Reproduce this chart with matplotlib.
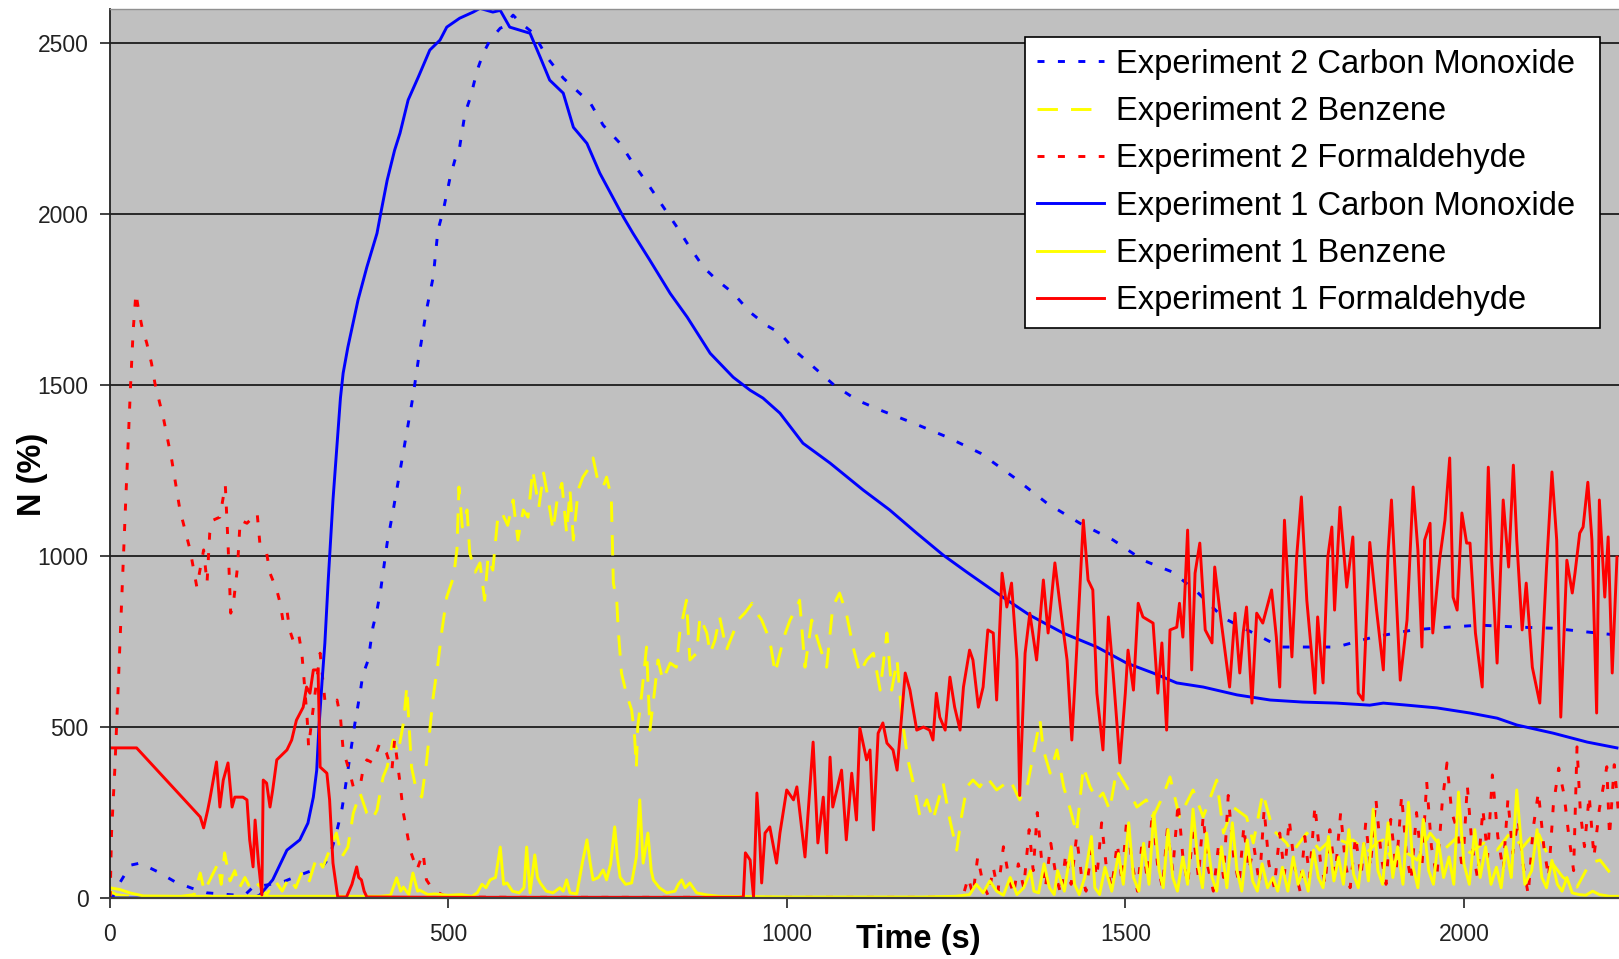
import matplotlib
matplotlib.use("Agg")
import matplotlib.pyplot as plt

plt.rcParams['font.family'] = ['Liberation Sans', 'DejaVu Sans']

# (time s, N %) pairs
co_exp2 = [(0, 0), (5, 3), (16, 47), (31, 96), (45, 102), (72, 76), (97, 47), (121, 29), (144, 15),
           (183, 9), (200, 9), (212, 32), (232, 38), (256, 47), (281, 67), (301, 82), (316, 96),
           (325, 120), (335, 190), (343, 257), (347, 307), (358, 453), (362, 506), (370, 599),
           (374, 652), (382, 696), (389, 792), (395, 842), (400, 895), (410, 1038), (419, 1135),
           (448, 1465), (456, 1573), (468, 1719), (478, 1816), (485, 1953), (493, 2012), (503, 2108),
           (510, 2158), (517, 2196), (525, 2295), (533, 2342), (543, 2421), (552, 2471), (562, 2509),
           (577, 2544), (581, 2547), (596, 2582), (606, 2561), (626, 2529), (646, 2459), (670, 2398),
           (710, 2325), (729, 2260), (754, 2207), (773, 2149), (793, 2094), (813, 2035), (838, 1962),
           (853, 1915), (877, 1845), (897, 1807), (921, 1769), (946, 1713), (970, 1675), (990, 1652),
           (1015, 1596), (1070, 1500), (1104, 1456), (1138, 1427), (1187, 1389), (1237, 1348),
           (1286, 1301), (1335, 1231), (1384, 1155), (1433, 1096), (1482, 1047), (1526, 988),
           (1570, 953), (1606, 895), (1645, 819), (1689, 775), (1729, 734), (1768, 734), (1812, 734),
           (1866, 763), (1925, 784), (1975, 792), (2024, 798), (2083, 792), (2132, 789), (2182, 778),
           (2226, 769)]

benzene_exp2 = [(0, 20), (10, 10), (30, 5), (60, 3), (100, 3), (125, 10), (134, 73), (140, 20), (150, 60),
                (160, 100), (165, 40), (170, 132), (178, 50), (185, 80), (192, 30), (200, 60), (210, 20),
                (220, 40), (232, 10), (245, 50), (255, 20), (265, 60), (275, 30), (285, 80), (295, 50),
                (306, 120), (315, 90), (325, 140), (335, 190), (343, 120), (352, 149), (360, 248),
                (370, 307), (380, 248), (388, 230), (395, 257), (404, 354), (410, 383), (419, 462),
                (426, 424), (434, 512), (439, 617), (446, 383), (453, 316), (461, 295), (468, 395),
                (473, 491), (478, 588), (485, 687), (491, 784), (498, 880), (508, 939), (513, 1018),
                (516, 1202), (521, 1085), (528, 1135), (532, 1009), (540, 953), (547, 980), (554, 871),
                (559, 997), (566, 959), (574, 1126), (581, 1120), (588, 1090), (596, 1164), (603, 1047),
                (611, 1135), (618, 1114), (625, 1251), (634, 1143), (641, 1243), (648, 1164), (655, 1076),
                (661, 1164), (668, 1213), (675, 1067), (680, 1193), (685, 1047), (692, 1193), (699, 1231),
                (709, 1260), (714, 1287), (721, 1222), (729, 1202), (734, 1231), (741, 1173), (744, 921),
                (749, 871), (751, 792), (756, 658), (763, 599), (771, 550), (775, 482), (778, 383),
                (780, 500), (786, 599), (793, 734), (798, 491), (805, 608), (810, 696), (817, 637),
                (828, 687), (837, 675), (842, 775), (852, 871), (857, 696), (867, 716), (872, 822),
                (882, 775), (887, 716), (894, 754), (901, 822), (911, 725), (921, 775), (928, 813),
                (938, 833), (949, 862), (956, 833), (963, 813), (975, 754), (983, 658), (990, 716),
                (998, 775), (1005, 813), (1015, 851), (1019, 871), (1027, 675), (1037, 813), (1049, 734),
                (1059, 675), (1068, 851), (1078, 892), (1088, 833), (1098, 734), (1108, 658), (1118, 696),
                (1128, 716), (1138, 608), (1148, 775), (1155, 608), (1163, 696), (1170, 529), (1179, 404),
                (1187, 336), (1197, 237), (1207, 287), (1216, 228), (1231, 336), (1241, 228), (1251, 140),
                (1258, 237), (1266, 325), (1275, 345), (1285, 325), (1295, 354), (1310, 316), (1330, 345),
                (1344, 287), (1356, 336), (1374, 520), (1379, 433), (1389, 365), (1399, 433), (1409, 325),
                (1419, 257), (1428, 190), (1438, 383), (1448, 325), (1458, 287), (1467, 307), (1477, 257),
                (1487, 374), (1502, 325), (1512, 287), (1517, 266), (1531, 287), (1541, 237), (1556, 300),
                (1566, 354), (1580, 237), (1600, 316), (1615, 237), (1635, 345), (1645, 190), (1659, 266),
                (1679, 237), (1689, 161), (1703, 307), (1718, 199), (1738, 161), (1746, 132), (1768, 190),
                (1787, 140), (1807, 178), (1827, 161), (1836, 170), (1856, 132), (1871, 161), (1881, 170),
                (1895, 102), (1910, 140), (1931, 111), (1950, 190), (1970, 140), (1990, 178), (2009, 132),
                (2029, 161), (2049, 140), (2068, 190), (2087, 149), (2108, 199), (2127, 111), (2146, 61),
                (2167, 32), (2186, 102), (2201, 111), (2216, 73), (2226, 53)]

formaldehyde_exp2 = [(0, 0), (1, 3), (3, 190), (8, 383), (11, 529), (16, 775), (20, 968), (24, 1164),
                     (31, 1494), (35, 1661), (39, 1769), (43, 1719), (48, 1670), (55, 1623), (62, 1564),
                     (67, 1506), (80, 1400), (92, 1280), (104, 1135), (119, 1018), (129, 909), (139, 1018),
                     (144, 921), (148, 1067), (153, 1105), (163, 1114), (171, 1208), (175, 1038), (179, 833),
                     (183, 862), (189, 968), (193, 1105), (203, 1096), (218, 1126), (222, 1038), (232, 1009),
                     (237, 950), (247, 901), (252, 862), (256, 813), (262, 842), (266, 784), (271, 754),
                     (279, 775), (284, 716), (287, 646), (292, 520), (294, 442), (301, 558), (311, 716),
                     (318, 579), (330, 570), (336, 579), (341, 529), (345, 433), (355, 365), (360, 325),
                     (370, 325), (375, 383), (380, 404), (389, 395), (399, 453), (409, 424), (417, 374),
                     (421, 462), (429, 336), (434, 248), (444, 140), (454, 82), (463, 132), (468, 53),
                     (478, 23), (498, 3), (600, 2), (800, 2), (1000, 2), (1200, 2), (1260, 3), (1268, 60),
                     (1275, 10), (1282, 120), (1290, 40), (1298, 5), (1305, 90), (1312, 20), (1320, 150),
                     (1328, 60), (1335, 10), (1342, 100), (1350, 30), (1358, 200), (1364, 80), (1370, 250),
                     (1376, 120), (1382, 30), (1390, 160), (1398, 60), (1405, 10), (1412, 130), (1420, 40),
                     (1428, 180), (1435, 70), (1442, 20), (1450, 140), (1458, 60), (1465, 220), (1472, 90),
                     (1480, 30), (1488, 160), (1495, 50), (1502, 230), (1510, 100), (1518, 20), (1525, 170),
                     (1532, 60), (1540, 250), (1548, 90), (1555, 30), (1562, 200), (1570, 80), (1578, 280),
                     (1585, 120), (1592, 40), (1600, 190), (1608, 60), (1615, 240), (1622, 90), (1630, 20),
                     (1638, 160), (1645, 60), (1652, 300), (1660, 120), (1668, 40), (1675, 210), (1682, 80),
                     (1690, 150), (1698, 40), (1705, 260), (1712, 100), (1720, 30), (1728, 190), (1735, 70),
                     (1742, 230), (1750, 90), (1758, 20), (1765, 180), (1772, 60), (1780, 270), (1788, 110),
                     (1795, 40), (1802, 200), (1810, 70), (1818, 250), (1825, 100), (1832, 30), (1840, 180),
                     (1848, 60), (1855, 220), (1862, 90), (1870, 290), (1878, 120), (1885, 40), (1892, 230),
                     (1900, 80), (1908, 300), (1915, 130), (1922, 50), (1930, 250), (1938, 90), (1945, 340),
                     (1952, 150), (1960, 60), (1968, 280), (1975, 395), (1982, 250), (1990, 200), (1998, 80),
                     (2005, 330), (2012, 150), (2020, 60), (2028, 260), (2035, 120), (2042, 360), (2050, 180),
                     (2058, 80), (2065, 290), (2072, 130), (2080, 230), (2088, 90), (2095, 10), (2102, 200),
                     (2110, 310), (2118, 150), (2125, 60), (2132, 270), (2140, 380), (2148, 300), (2155, 180),
                     (2162, 80), (2167, 442), (2172, 250), (2178, 150), (2185, 300), (2192, 120), (2200, 260),
                     (2211, 384), (2215, 180), (2222, 390), (2229, 230)]

co_exp1 = [(0, 0), (100, 0), (200, 0), (215, 2), (222, 9), (241, 53), (262, 140), (281, 170), (293, 219),
           (301, 295), (306, 374), (309, 491), (314, 637), (318, 745), (323, 930), (330, 1164), (341, 1462),
           (345, 1535), (352, 1611), (367, 1749), (380, 1845), (395, 1944), (400, 1997), (410, 2099),
           (421, 2187), (429, 2237), (441, 2334), (456, 2401), (473, 2480), (488, 2509), (498, 2547),
           (517, 2573), (537, 2591), (547, 2602), (566, 2591), (577, 2596), (591, 2547), (621, 2529),
           (636, 2459), (650, 2392), (670, 2354), (685, 2254), (705, 2207), (724, 2120), (759, 1991),
           (773, 1944), (798, 1865), (828, 1768), (853, 1699), (887, 1593), (921, 1523), (946, 1485),
           (965, 1462), (990, 1418), (1024, 1330), (1064, 1272), (1113, 1193), (1152, 1135), (1192, 1067),
           (1231, 1003), (1266, 953), (1310, 892), (1359, 827), (1408, 775), (1458, 734), (1502, 687),
           (1541, 658), (1576, 629), (1615, 617), (1665, 594), (1714, 579), (1762, 573), (1812, 570),
           (1861, 564), (1881, 570), (1916, 564), (1960, 556), (2009, 541), (2049, 526), (2078, 506),
           (2132, 482), (2182, 456), (2226, 439)]

benzene_exp1 = [(0, 30), (15, 25), (30, 15), (50, 6), (100, 5), (200, 5), (300, 5), (400, 5), (415, 8),
                (424, 59), (430, 20), (434, 32), (442, 10), (448, 73), (455, 20), (458, 23), (470, 10),
                (480, 12), (500, 8), (520, 10), (535, 5), (543, 15), (550, 40), (556, 30), (562, 53),
                (570, 60), (577, 149), (582, 40), (587, 44), (595, 20), (605, 15), (612, 30), (616, 149),
                (621, 15), (628, 126), (632, 60), (636, 44), (645, 20), (655, 15), (665, 30), (670, 20),
                (675, 53), (680, 15), (690, 12), (698, 100), (705, 170), (710, 100), (714, 53), (722, 60),
                (729, 82), (734, 53), (740, 100), (746, 208), (750, 120), (754, 61), (762, 40), (771, 44),
                (778, 120), (783, 287), (788, 102), (795, 190), (800, 80), (803, 53), (812, 30), (823, 15),
                (835, 20), (840, 40), (845, 53), (850, 30), (857, 44), (867, 15), (882, 9), (900, 5),
                (1000, 3), (1100, 3), (1200, 3), (1250, 5), (1270, 10), (1280, 40), (1290, 15), (1300, 50),
                (1310, 20), (1320, 8), (1330, 60), (1340, 10), (1350, 30), (1360, 80), (1365, 20),
                (1372, 15), (1380, 100), (1388, 30), (1395, 10), (1400, 80), (1410, 20), (1420, 150),
                (1425, 40), (1432, 10), (1440, 60), (1450, 180), (1455, 30), (1462, 10), (1470, 90),
                (1480, 20), (1490, 130), (1497, 40), (1505, 220), (1512, 60), (1520, 20), (1527, 160),
                (1535, 40), (1542, 250), (1550, 80), (1556, 30), (1563, 200), (1570, 60), (1577, 20),
                (1585, 120), (1592, 40), (1600, 260), (1608, 90), (1614, 30), (1620, 190), (1628, 60),
                (1635, 20), (1642, 150), (1650, 30), (1658, 220), (1665, 80), (1672, 20), (1680, 170),
                (1688, 50), (1695, 20), (1702, 100), (1710, 30), (1718, 60), (1725, 20), (1732, 90),
                (1740, 20), (1748, 120), (1755, 40), (1762, 80), (1770, 20), (1778, 140), (1785, 60),
                (1792, 30), (1800, 180), (1808, 50), (1815, 120), (1822, 40), (1830, 200), (1837, 70),
                (1844, 30), (1852, 160), (1859, 50), (1866, 260), (1873, 80), (1880, 40), (1888, 220),
                (1895, 60), (1902, 150), (1910, 40), (1918, 280), (1925, 90), (1932, 30), (1940, 230),
                (1948, 80), (1955, 40), (1962, 170), (1970, 60), (1978, 120), (1985, 40), (1992, 310),
                (2000, 100), (2008, 40), (2016, 200), (2024, 60), (2032, 150), (2040, 40), (2048, 90),
                (2055, 30), (2062, 150), (2070, 60), (2078, 316), (2085, 150), (2090, 40), (2100, 80),
                (2108, 200), (2115, 60), (2122, 30), (2130, 110), (2138, 40), (2145, 20), (2152, 60),
                (2160, 15), (2170, 10), (2180, 8), (2190, 20), (2200, 10), (2215, 5), (2230, 5)]

formaldehyde_exp1 = [(0, 439), (40, 439), (134, 237), (139, 205), (145, 257), (148, 287), (158, 398),
                     (163, 266), (168, 345), (175, 395), (181, 266), (185, 295), (197, 295), (203, 287),
                     (207, 170), (212, 91), (215, 228), (220, 102), (225, 9), (227, 345), (232, 336),
                     (237, 266), (241, 316), (247, 404), (262, 433), (269, 462), (276, 520), (286, 558),
                     (291, 617), (296, 599), (301, 667), (308, 667), (311, 383), (321, 365), (325, 287),
                     (330, 102), (337, 3), (350, 3), (358, 40), (365, 91), (368, 60), (372, 53), (376, 20),
                     (380, 3), (500, 2), (700, 2), (930, 2), (936, 3), (939, 132), (946, 111), (951, 3),
                     (956, 307), (960, 178), (963, 44), (968, 190), (975, 208), (985, 102), (990, 190),
                     (1000, 316), (1010, 287), (1015, 325), (1027, 120), (1039, 456), (1046, 161), (1054, 295),
                     (1059, 132), (1064, 412), (1068, 266), (1081, 374), (1088, 170), (1096, 365), (1103, 228),
                     (1108, 497), (1118, 404), (1123, 433), (1128, 199), (1135, 482), (1142, 512), (1148, 453),
                     (1157, 433), (1163, 374), (1175, 658), (1182, 608), (1192, 491), (1202, 500), (1211, 491),
                     (1216, 462), (1221, 599), (1226, 529), (1234, 491), (1241, 646), (1248, 558), (1256, 491),
                     (1261, 617), (1270, 725), (1275, 696), (1283, 558), (1290, 617), (1297, 784), (1305, 775),
                     (1310, 579), (1318, 950), (1325, 851), (1332, 921), (1340, 696), (1344, 300), (1352, 716),
                     (1359, 833), (1369, 696), (1379, 930), (1386, 775), (1396, 980), (1404, 851), (1414, 696),
                     (1421, 462), (1428, 716), (1433, 909), (1438, 1105), (1445, 930), (1452, 901), (1458, 599),
                     (1467, 433), (1475, 822), (1482, 658), (1492, 395), (1500, 599), (1504, 725), (1512, 608),
                     (1519, 862), (1526, 822), (1541, 804), (1548, 599), (1554, 746), (1561, 491), (1566, 784),
                     (1576, 792), (1580, 862), (1585, 763), (1592, 1076), (1598, 667), (1603, 950), (1610, 1038),
                     (1618, 784), (1628, 746), (1632, 968), (1640, 833), (1654, 617), (1662, 833), (1669, 658),
                     (1674, 775), (1679, 851), (1687, 570), (1694, 833), (1703, 804), (1716, 901), (1723, 763),
                     (1728, 617), (1735, 1105), (1746, 705), (1753, 997), (1760, 1173), (1768, 871), (1775, 716),
                     (1780, 599), (1784, 822), (1792, 629), (1799, 997), (1805, 1085), (1809, 842), (1817, 1143),
                     (1827, 909), (1836, 1056), (1844, 599), (1851, 579), (1861, 1040), (1871, 842), (1881, 667),
                     (1888, 1009), (1893, 1164), (1898, 968), (1906, 637), (1916, 813), (1925, 1202), (1932, 1018),
                     (1938, 734), (1942, 1047), (1950, 1096), (1954, 775), (1964, 988), (1972, 1105), (1979, 1287),
                     (1984, 880), (1990, 842), (1997, 1126), (2004, 1038), (2009, 1038), (2017, 775), (2027, 617),
                     (2036, 1260), (2041, 988), (2049, 687), (2058, 1164), (2066, 968), (2073, 1266), (2078, 1047),
                     (2086, 784), (2092, 921), (2101, 675), (2112, 570), (2122, 968), (2130, 1246), (2137, 1047),
                     (2143, 529), (2152, 988), (2160, 892), (2164, 950), (2171, 1067), (2176, 1085), (2183, 1216),
                     (2189, 1047), (2196, 541), (2200, 1164), (2208, 880), (2213, 1056), (2219, 658), (2226, 997)]

x_ticks = [0, 500, 1000, 1500, 2000]
y_ticks = [0, 500, 1000, 1500, 2000, 2500]

series = [
    ('Experiment 2 Carbon Monoxide', co_exp2, 'blue', (0, (2.4, 4.6))),
    ('Experiment 2 Benzene', benzene_exp2, 'yellow', (0, (7, 4.5))),
    ('Experiment 2 Formaldehyde', formaldehyde_exp2, 'red', (0, (2.4, 4.6))),
    ('Experiment 1 Carbon Monoxide', co_exp1, 'blue', '-'),
    ('Experiment 1 Benzene', benzene_exp1, 'yellow', '-'),
    ('Experiment 1 Formaldehyde', formaldehyde_exp1, 'red', '-'),
]

fig = plt.figure(figsize=(16.19, 9.59), dpi=100)
ax = fig.add_axes([109.5 / 1619, 61 / 959, 1509.5 / 1619, 889 / 959])
ax.set_facecolor('#c0c0c0')

for label, pts, color, ls in series:
    t, v = zip(*pts)
    ax.plot(t, v, color=color, linestyle=ls, linewidth=2.1, label=label)

ax.set_xlim(0, 2229)
ax.set_ylim(0, 2600)
ax.set_xticks(x_ticks)
ax.set_yticks(y_ticks)
ax.yaxis.grid(True, color='black', linewidth=1.1)
ax.set_axisbelow(True)

ax.tick_params(axis='both', direction='out', length=7, width=1.2, colors='#222222', labelsize=16.5)
ax.tick_params(axis='x', pad=11)
ax.tick_params(axis='y', pad=8)

ax.spines['right'].set_visible(False)
ax.spines['top'].set_color('#909090')
ax.spines['top'].set_linewidth(1.0)
ax.spines['left'].set_color('#222222')
ax.spines['left'].set_linewidth(1.3)
ax.spines['bottom'].set_color('#404040')
ax.spines['bottom'].set_linewidth(1.6)

ax.set_xlabel('Time (s)', fontsize=23.5, fontweight='bold')
ax.xaxis.set_label_coords(0.536, -0.047)
ax.xaxis.label.set_va('center')
ax.set_ylabel('N (%)', fontsize=23.5, fontweight='bold')
ax.yaxis.set_label_coords(-0.0507, 0.476)
ax.yaxis.label.set_va('center')

# legend box stretched to the reference width (1025..1600 px)
leg = ax.legend(loc='upper left', bbox_to_anchor=(1025 / 1619, 635 / 959, 575 / 1619, 287 / 959),
                bbox_transform=fig.transFigure, mode='expand', fontsize=23.5, frameon=True,
                fancybox=False, framealpha=1, edgecolor='black', handlelength=2.05,
                handletextpad=0.37, labelspacing=0.5, borderpad=0.36, borderaxespad=0)
leg.get_frame().set_linewidth(1.2)

fig.savefig('out.png', dpi=100)
